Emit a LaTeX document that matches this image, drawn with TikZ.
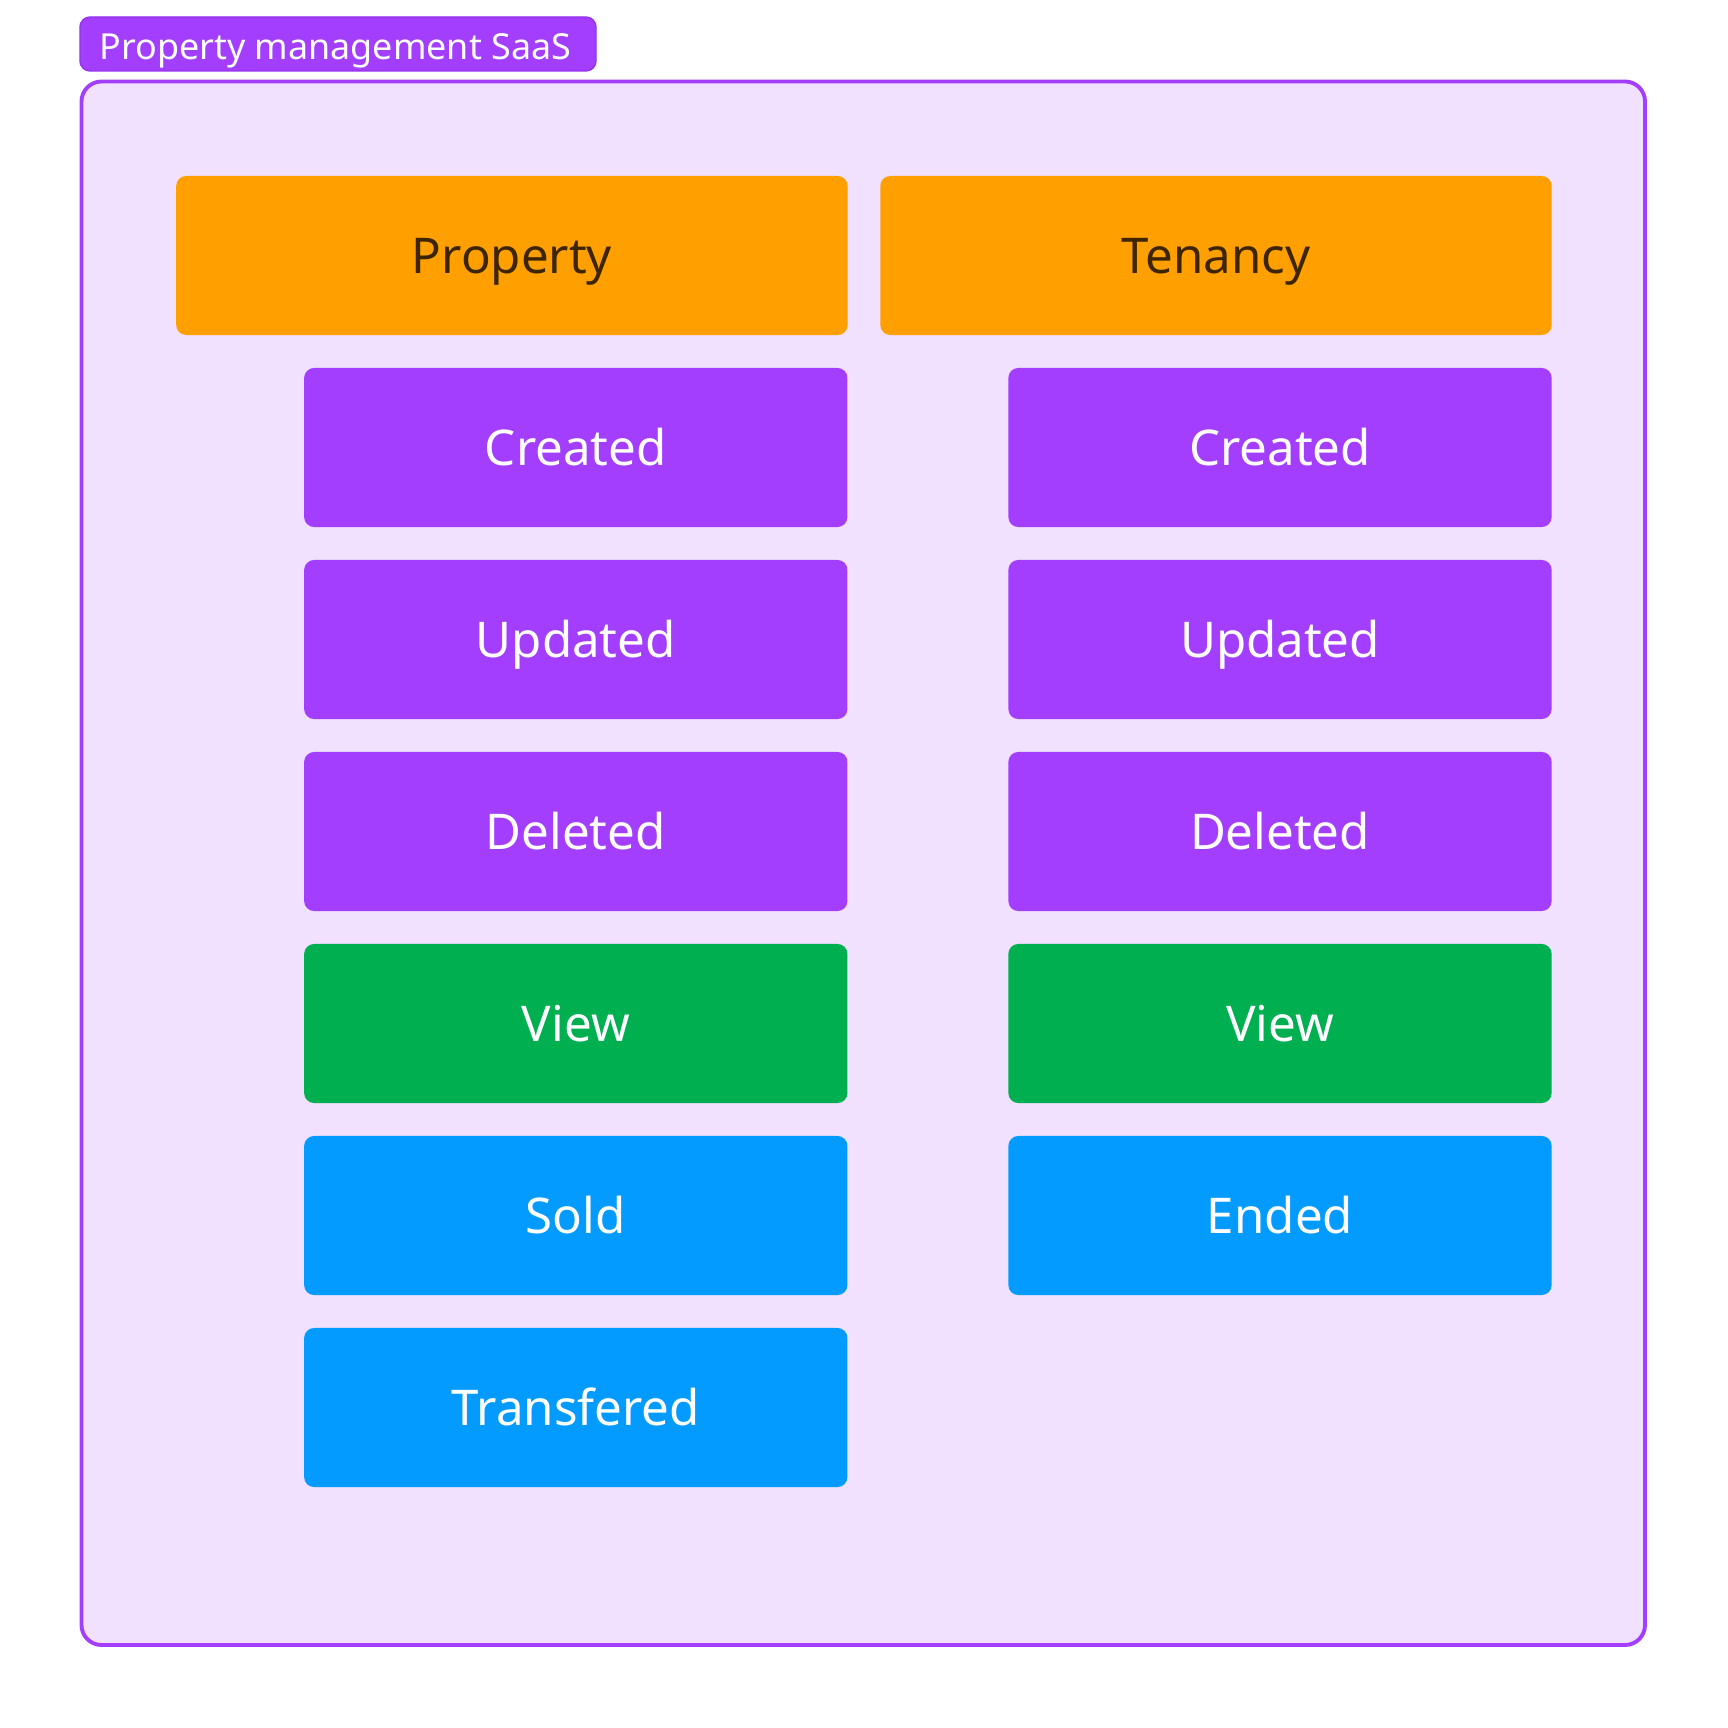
\documentclass[tikz,border=0pt]{standalone}
\usepackage{fontspec}
\setmainfont{Noto Sans}
\usepackage{tikz}
\usetikzlibrary{positioning}

\definecolor{framefill}{HTML}{F1E1FE}
\definecolor{eventpurple}{HTML}{A33EFF}
\definecolor{tabborder}{HTML}{9433EE}
\definecolor{entityorange}{HTML}{FFA000}
\definecolor{entitytext}{HTML}{3D2500}
\definecolor{viewgreen}{HTML}{00B050}
\definecolor{endblue}{HTML}{039BFF}

\begin{document}
\begin{tikzpicture}[x=0.01cm, y=-0.01cm,
    entity/.style={fill=entityorange, text=entitytext, rounded corners=0.1cm,
        minimum width=6.71cm, minimum height=1.59cm, inner sep=0pt,
        text height=10pt, text depth=0pt,
        font=\fontsize{14}{16}\selectfont},
    event/.style={fill=eventpurple, text=white, rounded corners=0.1cm,
        minimum width=5.43cm, minimum height=1.59cm, inner sep=0pt,
        text height=10pt, text depth=0pt,
        font=\fontsize{14}{16}\selectfont},
    view/.style={event, fill=viewgreen},
    ending/.style={event, fill=endblue}]

    \useasboundingbox (0,0) rectangle (1728,1728);

    % frame and tab
    \draw[eventpurple, fill=framefill, line width=1.1pt, rounded corners=0.2cm]
        (81.5,81.5) rectangle (1645,1645);
    \draw[tabborder, fill=eventpurple, line width=0.4pt, rounded corners=0.1cm]
        (80,17) rectangle (596,71);
    \node[anchor=west, text=white, inner sep=0pt, text height=7.3pt, text depth=0pt,
        font=\fontsize{10.2}{12}\selectfont] (title) at (99,46.5) {Property management SaaS};

    % nodes (property)
    \node[entity] (property) at (511.9,255.5) {Property};
    \node[event] (pcreated) at (575.8,447.5) {Created};
    \node[event] (pupdated) at (575.8,639.5) {Updated};
    \node[event] (pdeleted) at (575.8,831.5) {Deleted};
    \node[view] (pview) at (575.8,1023.5) {View};
    \node[ending] (psold) at (575.8,1215.5) {Sold};
    \node[ending] (ptransfered) at (575.8,1407.5) {Transfered};

    % nodes (tenancy)
    \node[entity] (tenancy) at (1216,255.5) {Tenancy};
    \node[event] (tcreated) at (1280,447.5) {Created};
    \node[event] (tupdated) at (1280,639.5) {Updated};
    \node[event] (tdeleted) at (1280,831.5) {Deleted};
    \node[view] (tview) at (1280,1023.5) {View};
    \node[ending] (tended) at (1280,1215.5) {Ended};

\end{tikzpicture}
\end{document}
